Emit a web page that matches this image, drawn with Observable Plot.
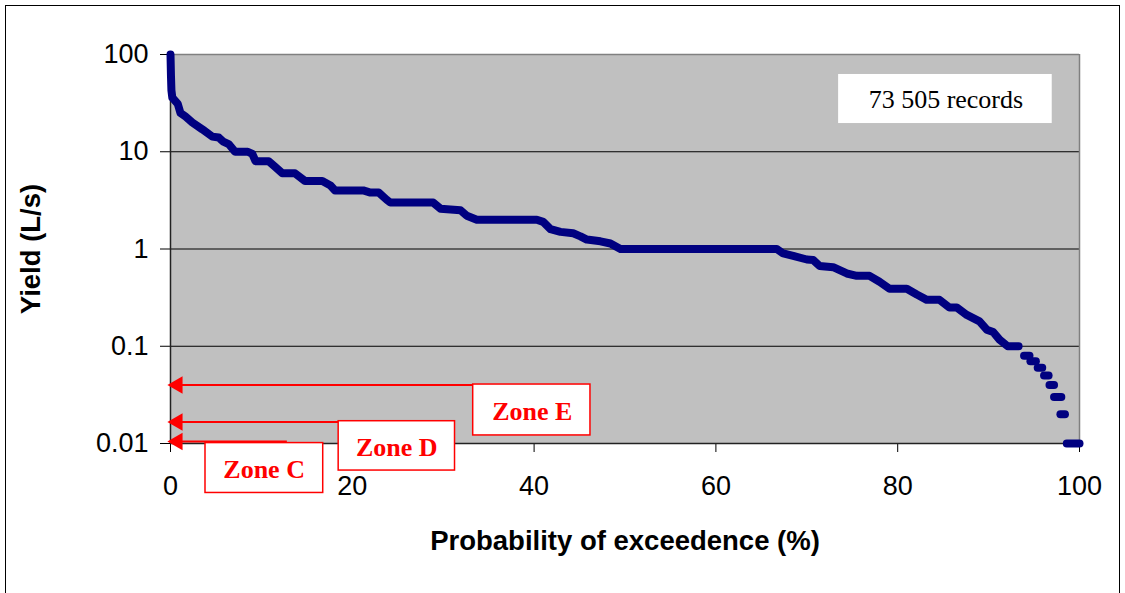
<!DOCTYPE html>
<html>
<head>
<meta charset="utf-8">
<script src="https://cdn.jsdelivr.net/npm/d3@7"></script>
<script src="https://cdn.jsdelivr.net/npm/@observablehq/plot@0.6"></script>
<style>
  html, body { margin: 0; padding: 0; background: #fff; }
  #wrap { position: relative; width: 1125px; height: 593px; overflow: hidden; }
  #border { position: absolute; left: 5px; top: 5px; width: 1115px; height: 620px; border: 1px solid #000; box-sizing: border-box; pointer-events: none; }
  svg { display: block; }
</style>
</head>
<body>
<div id="wrap"><div id="border"></div></div>
<script>
// Flow duration curve
const curvePct = [0,0.05,0.1,0.2,0.8,1.1,1.65,2.4,3.5,4.6,5.3,5.8,6.4,7.1,8.5,9.0,9.35,10.8,11.5,12.3,13.7,14.8,16.7,17.6,18.1,21.2,22.0,22.9,23.8,24.2,28.9,29.7,31.9,32.6,33.7,40.3,41.0,41.8,42.9,44.3,45.1,45.8,47.3,48.4,49.5,66.7,67.4,68.5,70.0,70.7,71.4,72.9,74.4,75.5,76.9,78.0,79.1,81.0,82.1,83.2,84.6,85.7,86.5,87.6,89.0,89.8,90.5,91.2,92.1,93.3];
const curveYield = [100,61,43,36,31,25,23,20,17,14.3,14,12.7,12,10,10,9.5,8,8,7,6,6,5,5,4.5,4,4,3.8,3.8,3.2,3,3,2.6,2.5,2.2,2,2,1.9,1.6,1.5,1.45,1.35,1.25,1.2,1.14,1,1,0.9,0.85,0.78,0.77,0.67,0.65,0.56,0.53,0.53,0.46,0.39,0.39,0.34,0.3,0.3,0.25,0.25,0.21,0.18,0.148,0.14,0.117,0.1,0.1];
// Tail: discrete yield levels with their probability extents
const tailYield = [0.08,0.07,0.06,0.05,0.04,0.03,0.02,0.01];
const tailStart = [93.9,94.6,95.4,96.1,96.7,97.2,97.9,98.6];
const tailEnd   = [94.5,95.2,95.9,96.6,97.2,98.0,98.4,100];

const yTicks = [100,10,1,0.1,0.01];
const xTicks = [0,20,40,60,80,100];
const gridLevels = [10,1,0.1];

const recordsLabel = "73 505 records";
const zoneNames = ["Zone E","Zone D","Zone C"];
const zoneLevels = [0.04,0.0166,0.0105];

// annotation layout (data units)
const zoneBox = [
  {x1:33.3, x2:46.2, y1:0.0404, y2:0.0121, tx:39.8, ty:0.0213, lineFrom:33.3},
  {x1:18.5, x2:31.3, y1:0.01695, y2:0.00527, tx:24.9, ty:0.0091, lineFrom:18.5},
  {x1:3.85, x2:16.8, y1:0.0101, y2:0.0031, tx:10.3, ty:0.0054, lineFrom:12.8}
];
const zones = zoneNames.map((name,i)=>({name, level:zoneLevels[i], ...zoneBox[i]}));

const curve = curvePct.map((p,i)=>({p, y:curveYield[i]}));
const tail = tailYield.map((y,i)=>({y, p1:tailStart[i], p2:tailEnd[i]}));

const navy = "#000080";
const red = "#FF0000";

const chart = Plot.plot({
  width: 1125,
  height: 593,
  marginLeft: 170,
  marginRight: 46,
  marginTop: 54,
  marginBottom: 150,
  style: {fontFamily: "'Liberation Sans', Arial, sans-serif", fontSize: "27px", background: "transparent", overflow: "visible"},
  x: {domain: [0,100]},
  y: {type: "log", domain: [0.01,100]},
  marks: [
    Plot.frame({fill: "#C0C0C0", stroke: null}),
    Plot.ruleY(gridLevels, {stroke: "#000", strokeWidth: 1}),
    Plot.ruleY([100], {stroke: "#808080", strokeWidth: 1.5}),
    Plot.ruleX([100], {stroke: "#808080", strokeWidth: 1.5}),
    Plot.axisY({ticks: yTicks, tickFormat: d => String(d), tickSize: 10, tickPadding: 12, label: null, stroke: "#000", fill: "#000"}),
    Plot.axisX({ticks: xTicks, tickFormat: d => String(d), tickSize: 9, tickPadding: 23, label: null, stroke: "#000", fill: "#000"}),
    Plot.ruleX([0], {stroke: "#222", strokeWidth: 1.5}),
    Plot.ruleY([0.01], {stroke: "#222", strokeWidth: 1.5}),
    // zone arrows
    Plot.link(zones, {x1: "lineFrom", x2: 1.2, y1: "level", y2: "level", stroke: red, strokeWidth: 2}),
    Plot.dot(zones, {x: 0, y: "level", symbol: "triangle", r: 6.5, rotate: -90, fill: red, stroke: null, dx: 7}),
    // curve
    Plot.line(curve, {x: "p", y: "y", stroke: navy, strokeWidth: 8, strokeLinejoin: "round", strokeLinecap: "round"}),
    Plot.link(tail, {x1: "p1", x2: "p2", y1: "y", y2: "y", stroke: navy, strokeWidth: 8, strokeLinecap: "round"}),
    // zone boxes
    Plot.rect(zones, {x1: "x1", x2: "x2", y1: "y1", y2: "y2", fill: "#fff", stroke: red, strokeWidth: 1.5}),
    Plot.text(zones, {x: "tx", y: "ty", text: "name", fill: red, fontFamily: "'Liberation Serif', 'Times New Roman', serif", fontWeight: "bold", fontSize: 26}),
    // records box
    Plot.rect([recordsLabel], {x1: 73.5, x2: 97.0, y1: 62.3, y2: 19.5, fill: "#fff"}),
    Plot.text([recordsLabel], {x: 85.3, y: 34.7, text: d => d, fill: "#000", fontFamily: "'Liberation Serif', 'Times New Roman', serif", fontSize: 26}),
    // axis titles
    Plot.text(["Probability of exceedence (%)"], {frameAnchor: "bottom", text: d => d, textAnchor: "middle", lineAnchor: "middle", dy: 98, fontWeight: "bold", fontSize: 27.5, fill: "#000"}),
    Plot.text(["Yield (L/s)"], {frameAnchor: "left", text: d => d, textAnchor: "middle", lineAnchor: "middle", dx: -139, rotate: -90, fontWeight: "bold", fontSize: 27.5, fill: "#000"})
  ]
});
document.getElementById("wrap").prepend(chart);
</script>
</body>
</html>
